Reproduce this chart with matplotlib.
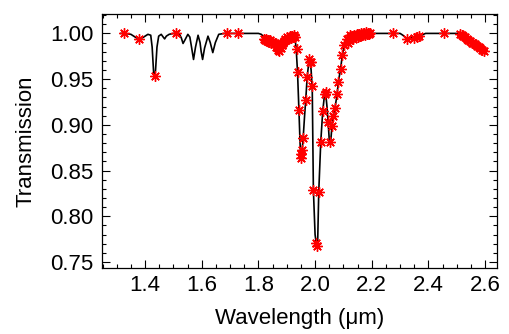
import matplotlib
matplotlib.use("Agg")
import matplotlib.pyplot as plt
from matplotlib.ticker import MultipleLocator

plt.rcParams['font.family'] = ['Liberation Sans', 'DejaVu Sans']

# Model transmission curve (black line)
model_wl = [1.315, 1.33, 1.35, 1.365, 1.38, 1.395, 1.41, 1.42, 1.425, 1.43, 1.433, 1.437,
            1.442, 1.448, 1.457, 1.464, 1.469, 1.475, 1.485, 1.50, 1.52, 1.528, 1.534, 1.541,
            1.551, 1.558, 1.564, 1.571, 1.578, 1.587, 1.594, 1.598, 1.603, 1.610, 1.622,
            1.630, 1.639, 1.648, 1.660, 1.68, 1.80, 1.81, 1.82, 1.83, 1.845, 1.86, 1.873,
            1.885, 1.90, 1.915, 1.928, 1.933, 1.938, 1.943, 1.947, 1.950, 1.953, 1.958,
            1.963, 1.967, 1.972, 1.978, 1.982, 1.986, 1.990, 1.994, 2.000, 2.005, 2.009,
            2.013, 2.020, 2.027, 2.033, 2.037, 2.042, 2.046, 2.050, 2.053, 2.056, 2.060,
            2.064, 2.070, 2.078, 2.082, 2.090, 2.096, 2.103, 2.111, 2.123, 2.15, 2.20,
            2.30, 2.31, 2.323, 2.335, 2.35, 2.362, 2.375, 2.39, 2.50, 2.52, 2.55, 2.58, 2.60]
model_tr = [1.000, 1.000, 0.999, 0.996, 0.9935, 0.996, 0.999, 0.998, 0.985, 0.958, 0.951, 0.960,
            0.985, 0.997, 0.999, 0.996, 0.994, 0.997, 0.999, 1.000, 1.000, 0.995, 0.989, 0.993,
            0.999, 0.996, 0.985, 0.9715, 0.985, 0.998, 0.990, 0.980, 0.9715, 0.984, 0.997,
            0.990, 0.979, 0.990, 0.999, 1.000, 1.000, 0.999, 0.996, 0.993, 0.992, 0.988, 0.983,
            0.988, 0.995, 0.997, 0.996, 0.985, 0.958, 0.916, 0.880, 0.862, 0.866, 0.886,
            0.910, 0.927, 0.952, 0.969, 0.970, 0.960, 0.940, 0.829, 0.780, 0.768, 0.770,
            0.827, 0.881, 0.915, 0.932, 0.936, 0.920, 0.903, 0.884, 0.879, 0.885, 0.900,
            0.910, 0.918, 0.934, 0.947, 0.961, 0.976, 0.987, 0.994, 0.998, 0.998, 1.000,
            1.000, 0.998, 0.994, 0.995, 0.996, 0.996, 0.998, 1.000, 1.000, 0.998, 0.991, 0.985, 0.980]

# Measured points (red asterisks)
obs_wl = [1.327, 1.380, 1.434, 1.509, 1.689, 1.727,
          1.818, 1.822, 1.826, 1.830, 1.834, 1.838, 1.842, 1.846, 1.850, 1.854, 1.858,
          1.862, 1.866, 1.870, 1.874, 1.878, 1.882, 1.886, 1.890, 1.894, 1.898, 1.902,
          1.906, 1.910, 1.914, 1.918, 1.922, 1.926, 1.930,
          1.935, 1.938, 1.943, 1.949, 1.951, 1.953, 1.958, 1.967, 1.970, 1.978, 1.982,
          1.984, 1.988, 1.994, 2.003, 2.008, 2.013, 2.021, 2.027, 2.034, 2.038, 2.046,
          2.052, 2.058, 2.064, 2.070, 2.078, 2.082, 2.090, 2.096, 2.103, 2.111,
          2.115, 2.119, 2.123, 2.127, 2.131, 2.135, 2.139, 2.143, 2.147, 2.151, 2.155,
          2.159, 2.163, 2.167, 2.171, 2.175, 2.179, 2.183, 2.187, 2.191, 2.195,
          2.274, 2.323, 2.350, 2.358, 2.365, 2.456,
          2.511, 2.517, 2.523, 2.529, 2.535, 2.541, 2.547, 2.553, 2.559, 2.565, 2.571,
          2.577, 2.583, 2.589, 2.595]
obs_tr = [1.000, 0.9935, 0.953, 1.000, 1.000, 1.000,
          0.994, 0.993, 0.994, 0.992, 0.993, 0.991, 0.993, 0.990, 0.991, 0.988, 0.989,
          0.985, 0.987, 0.982, 0.981, 0.984, 0.987, 0.990, 0.992, 0.994, 0.993, 0.996,
          0.994, 0.997, 0.995, 0.997, 0.996, 0.998, 0.996,
          0.983, 0.958, 0.916, 0.864, 0.868, 0.872, 0.886, 0.927, 0.952, 0.972, 0.969,
          0.969, 0.942, 0.829, 0.771, 0.767, 0.827, 0.881, 0.915, 0.934, 0.936, 0.903,
          0.881, 0.899, 0.910, 0.918, 0.934, 0.947, 0.961, 0.976, 0.987, 0.994,
          0.990, 0.993, 0.998, 0.995, 0.997, 0.994, 0.998, 0.996, 0.999, 0.996, 0.999,
          0.997, 1.000, 0.998, 1.000, 0.998, 1.001, 0.999, 1.000, 0.999, 1.000,
          1.000, 0.9935, 0.995, 0.9965, 0.997, 1.000,
          0.999, 0.998, 0.997, 0.996, 0.994, 0.993, 0.992, 0.990, 0.989, 0.988, 0.986,
          0.985, 0.984, 0.982, 0.981]

x_ticks = [1.4, 1.6, 1.8, 2.0, 2.2, 2.4, 2.6]
y_ticks = [0.75, 0.80, 0.85, 0.90, 0.95, 1.00]

fig = plt.figure(figsize=(5.09, 3.34), dpi=100)
ax = fig.add_axes([0.2004, 0.1976, 0.776, 0.7604])

ax.plot(obs_wl, obs_tr, linestyle='none', marker=(8, 2, 0), markersize=7.5,
        markeredgecolor='red', markeredgewidth=1.0, color='red', zorder=3)
ax.plot(model_wl, model_tr, color='black', linewidth=1.2, zorder=2)

ax.set_xlim(1.248, 2.642)
ax.set_ylim(0.7434, 1.0212)
ax.set_xticks(x_ticks)
ax.set_xticklabels([f"{v:.1f}" for v in x_ticks])
ax.set_yticks(y_ticks)
ax.set_yticklabels([f"{v:.2f}" for v in y_ticks])
ax.xaxis.set_minor_locator(MultipleLocator(0.05))
ax.yaxis.set_minor_locator(MultipleLocator(0.01))
ax.tick_params(which='both', direction='in', top=True, right=True, labelsize=16, width=0.8)
ax.tick_params(which='major', length=6)
ax.tick_params(which='minor', length=3)
ax.tick_params(axis='x', pad=5)
ax.tick_params(axis='y', pad=6)
for s in ax.spines.values():
    s.set_linewidth(0.9)

ax.set_xlabel("Wavelength (μm)", fontsize=16, labelpad=9)
ax.set_ylabel("Transmission", fontsize=16, labelpad=10)

fig.savefig("out.png", dpi=100)
